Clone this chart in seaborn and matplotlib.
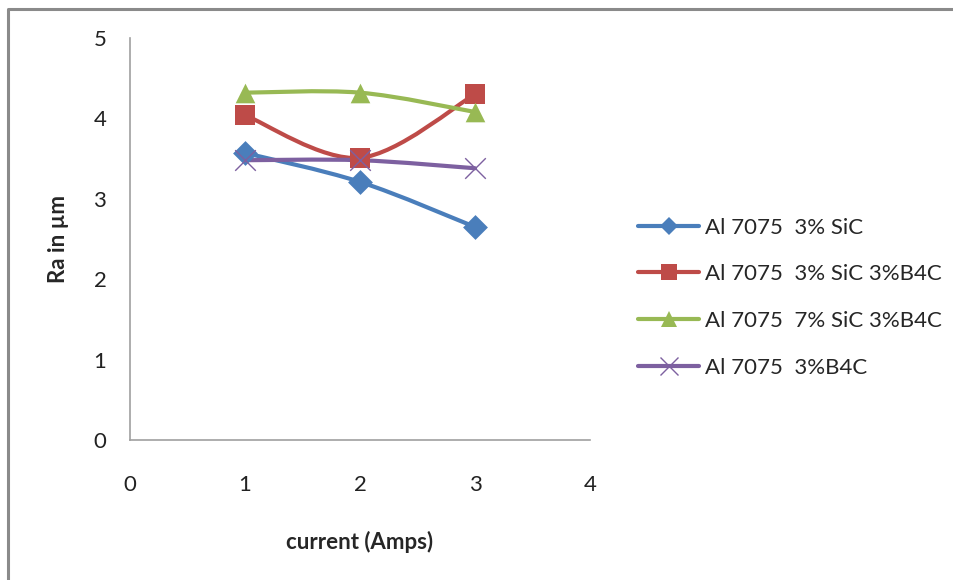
import matplotlib
matplotlib.use('Agg')
import matplotlib.pyplot as plt
import seaborn as sns
import pandas as pd
from matplotlib.path import Path
from matplotlib.patches import PathPatch
from matplotlib.lines import Line2D

# ---- data ----
current = [1, 2, 3]
ra_3sic = [3.57, 3.21, 2.65]
ra_3sic_3b4c = [4.04, 3.51, 4.30]
ra_7sic_3b4c = [4.32, 4.32, 4.08]
ra_3b4c = [3.48, 3.48, 3.38]
series_labels = ["Al 7075  3% SiC", "Al 7075  3% SiC 3%B4C",
                 "Al 7075  7% SiC 3%B4C", "Al 7075  3%B4C"]
x_ticks = [0, 1, 2, 3, 4]
y_ticks = [0, 1, 2, 3, 4, 5]

series_values = [ra_3sic, ra_3sic_3b4c, ra_7sic_3b4c, ra_3b4c]
colors = ["#4A7EBB", "#BE4B48", "#98B954", "#7D60A0"]
markers = ["D", "s", "^", "x"]
msizes = [160, 200, 200, 220]

sns.set_theme(style="white")
plt.rcParams['font.family'] = ['Lato', 'DejaVu Sans']

fig = plt.figure(figsize=(9.54, 5.8), dpi=100)
W, H = 954, 580
ax = fig.add_axes([130 / W, 1 - 440 / H, 460 / W, 402 / H])


def smooth_path(xs, ys):
    # Excel-style smoothed line: cubic Bezier through each data point
    pts = list(zip(xs, ys))
    n = len(pts)
    verts = [pts[0]]
    codes = [Path.MOVETO]
    for i in range(n - 1):
        p0 = pts[i - 1] if i > 0 else pts[i]
        p1 = pts[i]
        p2 = pts[i + 1]
        p3 = pts[i + 2] if i + 2 < n else pts[i + 1]
        c1 = (p1[0] + (p2[0] - p0[0]) / 6, p1[1] + (p2[1] - p0[1]) / 6)
        c2 = (p2[0] - (p3[0] - p1[0]) / 6, p2[1] - (p3[1] - p1[1]) / 6)
        verts += [c1, c2, p2]
        codes += [Path.CURVE4] * 3
    return Path(verts, codes)


handles = []
for vals, lab, col, mk, ms in zip(series_values, series_labels, colors, markers, msizes):
    patch = PathPatch(smooth_path(current, vals), facecolor='none', edgecolor=col,
                      lw=3.0, capstyle='round', joinstyle='round', zorder=2)
    ax.add_patch(patch)
    df = pd.DataFrame({"current": current, "ra": vals})
    if mk == "x":
        sns.scatterplot(data=df, x="current", y="ra", marker=mk, s=ms, color=col,
                        linewidth=1.0, ax=ax, zorder=3)
        h = Line2D([], [], color=col, lw=3.0, marker=mk, markersize=13,
                   markeredgewidth=1.0, solid_capstyle='round')
    else:
        sns.scatterplot(data=df, x="current", y="ra", marker=mk, s=ms, color=col,
                        linewidth=0, ax=ax, zorder=3)
        h = Line2D([], [], color=col, lw=3.0, marker=mk,
                   markersize=11 if mk != "D" else 9, markeredgewidth=0,
                   solid_capstyle='round')
    handles.append(h)

ax.set_xlim(0, 4)
ax.set_ylim(0, 5)
ax.set_xticks(x_ticks)
ax.set_yticks(y_ticks)
ax.tick_params(axis='both', length=0, labelsize=16, colors='#222222')
ax.tick_params(axis='x', pad=25)
ax.tick_params(axis='y', pad=17)
for s in ['top', 'right']:
    ax.spines[s].set_visible(False)
for s in ['left', 'bottom']:
    ax.spines[s].set_color('#A0A0A0')
    ax.spines[s].set_linewidth(1.2)

ax.set_xlabel("current (Amps)", fontsize=16, fontweight='bold', labelpad=26)
ax.set_ylabel("Ra in µm", fontsize=16, fontweight='bold', labelpad=18)

leg = fig.legend(handles, series_labels, loc='center left',
                 bbox_to_anchor=(638 / W, 1 - 297.5 / H), frameon=False,
                 fontsize=16, handlelength=2.75, handletextpad=0.25,
                 labelspacing=1.2, borderpad=0, borderaxespad=0)

# outer frame (left and top edges)
fig.add_artist(Line2D([8 / W, 8 / W, 1.0], [0.0, 1 - 9 / H, 1 - 9 / H],
                      transform=fig.transFigure, color='#8A8A8A', lw=2.2))

fig.savefig("out.png", dpi=100)
